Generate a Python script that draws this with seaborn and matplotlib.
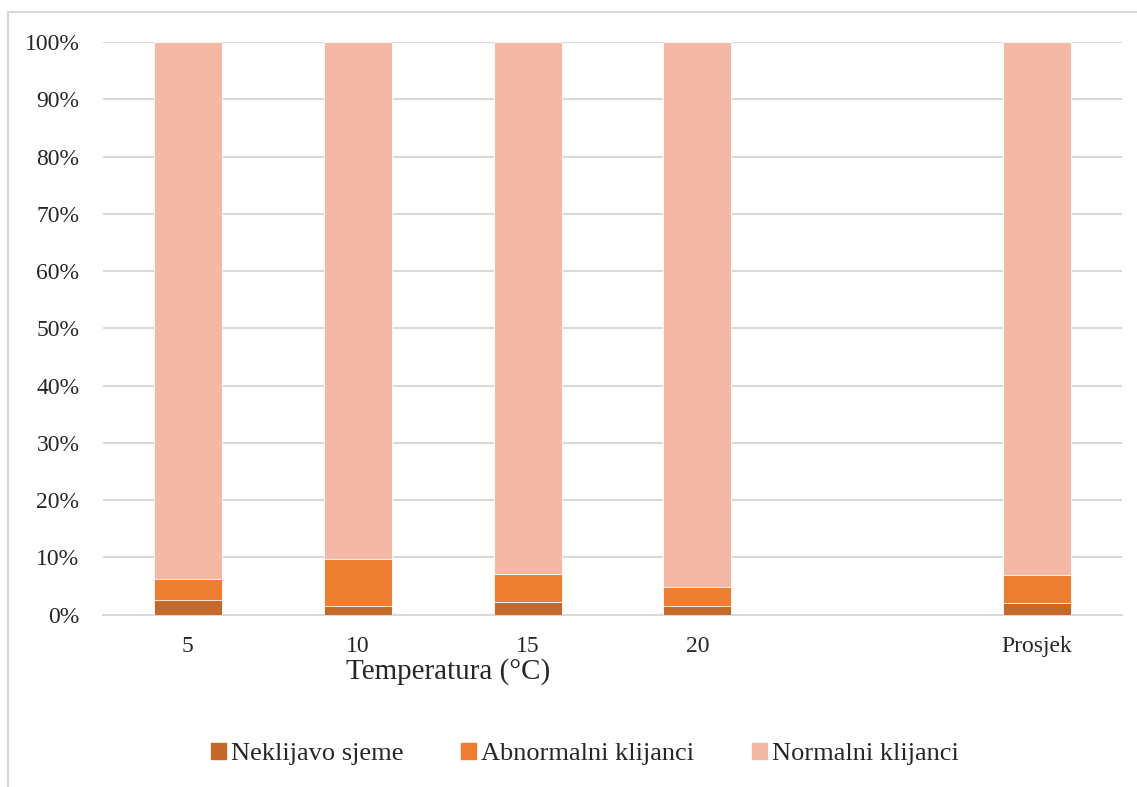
import matplotlib.pyplot as plt
import matplotlib.patches as mpatches
import pandas as pd
import seaborn as sns

# podaci (%)
kategorije = ["5", "10", "15", "20", "Prosjek"]
neklijavo = [2.5, 1.6, 2.2, 1.5, 2.0]
abnormalni = [3.7, 8.1, 4.9, 3.4, 5.0]
normalni = [100 - n - a for n, a in zip(neklijavo, abnormalni)]

redoslijed = ["5", "10", "15", "20", " ", "Prosjek"]
boje = {"Neklijavo sjeme": "#C4682B",
        "Abnormalni klijanci": "#ED7D31",
        "Normalni klijanci": "#F4B9A5"}

df = pd.DataFrame({"kat": kategorije, "nek": neklijavo,
                   "abn": abnormalni, "norm": normalni})
df["sloj2"] = df["nek"] + df["abn"]
df["sloj3"] = df["sloj2"] + df["norm"]

sns.set_style("white")
plt.rcParams["font.family"] = ["Liberation Serif", "DejaVu Serif"]

fig = plt.figure(figsize=(11.37, 7.87), dpi=100)
ax = fig.add_axes([103 / 1137, 1 - 614.7 / 787, 1019 / 1137, (614.7 - 42) / 787])

# stacked bars: crtamo kumulativne vrijednosti odostraga prema naprijed
for col, ime in [("sloj3", "Normalni klijanci"),
                 ("sloj2", "Abnormalni klijanci"),
                 ("nek", "Neklijavo sjeme")]:
    sns.barplot(data=df, x="kat", y=col, order=redoslijed, color=boje[ime],
                width=0.4, saturation=1, edgecolor="white", linewidth=0.6,
                ax=ax, zorder=3)

ax.set_ylim(0, 100)
ax.set_xlim(-0.5, 5.5)
ax.set_yticks(range(0, 101, 10))
ax.set_yticklabels([f"{v}%" for v in range(0, 101, 10)], fontsize=17)
ax.set_xticks(range(6))
ax.set_xticklabels(["5", "10", "15", "20", "", "Prosjek"], fontsize=17)
ax.tick_params(axis="y", length=0, pad=17)
ax.tick_params(axis="x", length=0, pad=15)
ax.yaxis.grid(True, color="#D9D9D9", linewidth=1.5, zorder=0)
ax.set_axisbelow(True)
for s in ["top", "right", "left"]:
    ax.spines[s].set_visible(False)
ax.spines["bottom"].set_color("#D9D9D9")
ax.spines["bottom"].set_linewidth(1.5)
ax.set_ylabel("")
ax.set_xlabel("Temperatura (°C)", fontsize=21, labelpad=2)
ax.xaxis.set_label_coords((448 - 103) / 1019, -(672 - 614.7) / 572.7)
ax.xaxis.label.set_verticalalignment("center")

handles = [mpatches.Patch(color=c, label=k) for k, c in boje.items()]
fig.legend(handles=handles, loc="center", ncol=3, frameon=False,
           bbox_to_anchor=(585 / 1137, 1 - 754 / 787), fontsize=19,
           handlelength=0.55, handleheight=0.55, handletextpad=0.2,
           columnspacing=2.2)

# okvir grafikona
fig.patches.append(mpatches.Rectangle((8 / 1137, -0.1), 1.2, 1 - 12 / 787 + 0.1,
                                      transform=fig.transFigure, fill=False,
                                      edgecolor="#D9D9D9", linewidth=1.5))

fig.savefig("out.png", dpi=100)
